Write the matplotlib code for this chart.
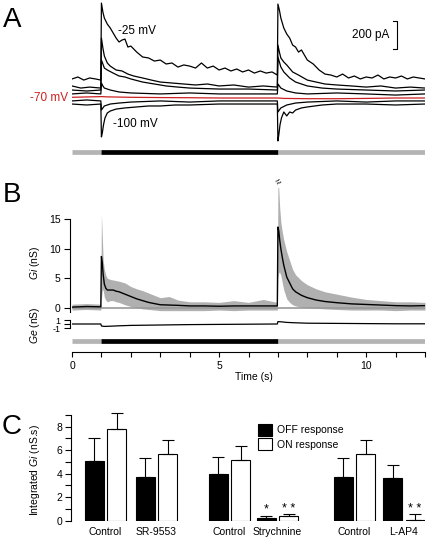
import numpy as np
import matplotlib
matplotlib.use('Agg')
import matplotlib.pyplot as plt
from matplotlib.patches import Patch

plt.rcParams['font.family'] = ['Liberation Sans', 'DejaVu Sans']
plt.rcParams['mathtext.fontset'] = 'custom'
plt.rcParams['mathtext.it'] = 'Liberation Sans:italic'
plt.rcParams['mathtext.rm'] = 'Liberation Sans'

# ---- data ----
# stimulus timing (s)
stim_on, stim_off, t_end = 1.0, 7.0, 12.0

# A: membrane currents (pA, relative to -70 mV holding level)
t_m25 = [0, 0.2, 0.4, 0.6, 0.8, 0.98, 1.0, 1.05, 1.1, 1.2, 1.3, 1.4, 1.5, 1.6, 1.7, 1.8, 1.9,
         2.0, 2.2, 2.4, 2.6, 2.8, 3.0, 3.2, 3.4, 3.6, 3.8, 4.0, 4.2, 4.4, 4.6, 4.8, 5.0, 5.2,
         5.4, 5.6, 5.8, 6.0, 6.2, 6.4, 6.6, 6.8, 6.98, 7.0, 7.05, 7.1, 7.2, 7.3, 7.4, 7.5,
         7.6, 7.7, 7.8, 8.0, 8.2, 8.4, 8.6, 8.8, 9.0, 9.2, 9.4, 9.6, 9.8, 10.0, 10.2, 10.4,
         10.6, 10.8, 11.0, 11.2, 11.4, 11.6, 11.8, 12.0]
i_m25 = [136, 150, 128, 143, 136, 128, 678, 614, 571, 528, 500, 464, 428, 400, 414, 421, 364,
         371, 328, 293, 286, 264, 271, 243, 250, 221, 236, 228, 214, 250, 214, 228, 200, 214,
         193, 207, 186, 200, 178, 193, 178, 186, 164, 671, 628, 571, 500, 457, 428, 378,
         364, 328, 343, 271, 243, 200, 171, 164, 150, 171, 143, 157, 136, 150, 143, 164,
         136, 150, 143, 157, 136, 150, 143, 136]

t_m40 = [0, 0.3, 0.6, 0.98, 1.0, 1.05, 1.1, 1.2, 1.3, 1.5, 1.7, 1.9, 2.1, 2.4, 2.7, 3.0, 3.4,
         3.8, 4.2, 4.6, 5.0, 5.5, 6.0, 6.5, 6.98, 7.0, 7.05, 7.1, 7.2, 7.3, 7.5, 7.7, 8.0,
         8.3, 8.6, 9.0, 9.5, 10.0, 10.5, 11.0, 11.5, 12.0]
i_m40 = [86, 71, 78, 71, 428, 357, 300, 250, 228, 200, 193, 171, 157, 143, 128, 114, 107,
         100, 93, 100, 86, 93, 78, 86, 78, 378, 328, 286, 257, 236, 186, 164, 128,
         114, 100, 93, 86, 78, 86, 71, 78, 71]

t_m55 = [0, 0.5, 0.98, 1.0, 1.05, 1.1, 1.2, 1.4, 1.6, 1.8, 2.0, 2.4, 2.8, 3.2, 3.6, 4.0,
         5.0, 6.0, 6.98, 7.0, 7.05, 7.1, 7.2, 7.4, 7.6, 8.0, 8.5, 9.0, 10.0, 11.0, 12.0]
i_m55 = [57, 50, 57, 271, 243, 214, 200, 178, 157, 150, 136, 114, 100, 86, 78, 71,
         64, 64, 57, 293, 257, 221, 186, 143, 114, 86, 71, 64, 57, 50, 57]

t_m60 = [0, 0.5, 0.98, 1.0, 1.05, 1.1, 1.3, 1.6, 2.0, 3.0, 4.0, 5.0, 6.0, 6.98, 7.0, 7.1,
         7.3, 7.6, 8.0, 9.0, 10.0, 11.0, 12.0]
i_m60 = [29, 36, 29, 107, 86, 71, 57, 43, 36, 29, 36, 29, 29, 29, 100, 71,
         50, 36, 29, 36, 29, 21, 29]

t_m70 = [0, 1.0, 1.2, 2.0, 3.0, 4.0, 5.0, 6.0, 7.0, 7.2, 8.0, 9.0, 10.0, 11.0, 12.0]
i_m70 = [5, 10, 8, 5, 3, 2, 0, 0, 0, -3, -5, -5, -3, 0, 0]

t_m85 = [0, 0.5, 0.98, 1.0, 1.05, 1.1, 1.3, 1.6, 2.0, 3.0, 4.0, 5.0, 6.0, 6.98, 7.0, 7.1,
         7.3, 7.6, 8.0, 9.0, 10.0, 11.0, 12.0]
i_m85 = [-21, -14, -21, -86, -71, -57, -43, -36, -29, -21, -29, -21, -21, -21, -100, -71,
         -50, -36, -29, -21, -29, -21, -21]

t_m100 = [0, 0.5, 0.98, 1.0, 1.03, 1.07, 1.12, 1.2, 1.3, 1.5, 1.8, 2.2, 2.6, 3.0, 3.5, 4.0,
          5.0, 6.0, 6.98, 7.0, 7.03, 7.07, 7.12, 7.2, 7.3, 7.4, 7.5, 7.6, 7.8, 8.0, 8.5,
          9.0, 10.0, 11.0, 12.0]
i_m100 = [-43, -50, -43, -278, -250, -193, -143, -107, -93, -79, -71, -64, -57, -57, -50, -50,
          -43, -43, -43, -307, -264, -193, -143, -100, -128, -100, -107, -86, -71, -64, -50,
          -43, -43, -50, -43]

# B: conductances (nS)
t_g = [0, 0.5, 0.98, 1.0, 1.03, 1.06, 1.1, 1.15, 1.2, 1.3, 1.4, 1.5, 1.6, 1.8, 2.0, 2.2,
       2.4, 2.6, 2.8, 3.0, 3.3, 3.6, 4.0, 4.5, 5.0, 5.5, 6.0, 6.5, 6.98, 7.0, 7.03, 7.06,
       7.1, 7.15, 7.2, 7.3, 7.4, 7.5, 7.6, 7.8, 8.0, 8.3, 8.6, 9.0, 9.5, 10.0, 10.5, 11.0,
       11.5, 12.0]
gi_mean = [0.1, 0.2, 0.15, 8.7, 7.6, 5.6, 4.0, 3.3, 3.0, 3.0, 3.0, 2.8, 2.7, 2.3, 1.9, 1.5,
           1.2, 0.9, 0.7, 0.5, 0.45, 0.4, 0.3, 0.3, 0.25, 0.3, 0.3, 0.3, 0.3, 13.7, 13.0, 11.5,
           10.0, 8.5, 7.2, 5.2, 4.2, 3.2, 2.7, 2.1, 1.7, 1.3, 1.05, 0.85, 0.65, 0.55, 0.45, 0.35,
           0.3, 0.35]
gi_hi = [0.6, 0.7, 0.6, 16.0, 12.0, 8.0, 6.5, 5.5, 5.0, 4.8, 4.7, 4.6, 4.5, 4.2, 3.6, 3.2,
         2.9, 2.5, 2.1, 1.7, 1.9, 1.3, 1.0, 1.0, 0.9, 1.2, 0.9, 1.4, 0.9, 22.0, 20.0, 17.0,
         14.5, 12.8, 11.5, 9.5, 8.0, 6.5, 5.6, 4.6, 3.9, 3.2, 2.7, 2.3, 1.8, 1.4, 1.2, 1.0,
         1.0, 0.9]
gi_lo = [-0.4, -0.3, -0.4, 1.5, 3.0, 3.0, 1.8, 1.3, 1.0, 1.2, 1.2, 1.0, 0.9, 0.5, 0.2, 0.0,
         -0.2, -0.3, -0.4, -0.5, -0.5, -0.5, -0.5, -0.5, -0.4, -0.5, -0.4, -0.4, -0.4, 5.0, 6.0, 6.0,
         5.5, 4.2, 3.0, 1.5, 0.9, 0.5, 0.3, 0.1, 0.0, -0.1, -0.2, -0.3, -0.4, -0.4, -0.4, -0.5,
         -0.4, -0.4]
t_ge = [0, 0.98, 1.0, 1.1, 1.3, 1.6, 2.0, 2.5, 3.0, 4.0, 5.0, 6.0, 6.98, 7.0, 7.1, 7.3, 7.6,
        8.0, 9.0, 10.0, 11.0, 12.0]
ge = [0.0, 0.0, -0.5, -0.6, -0.55, -0.45, -0.35, -0.3, -0.25, -0.15, -0.1, -0.05, 0.0, 0.6,
      0.55, 0.4, 0.3, 0.2, 0.15, 0.1, 0.05, 0.05]

# C: integrated Gi (nS.s)
conditions = ['Control', 'SR-9553', 'Control', 'Strychnine', 'Control', 'L-AP4']
off_mean = [5.1, 3.75, 4.0, 0.2, 3.7, 3.6]
off_err = [1.9, 1.55, 1.45, 0.17, 1.6, 1.1]
on_mean = [7.8, 5.7, 5.15, 0.4, 5.65, 0.05]
on_err = [1.4, 1.15, 1.25, 0.2, 1.2, 0.5]
off_sig = ['', '', '', '*', '', '']
on_sig = ['', '', '', '* *', '', '* *']

# ---- figure ----
W, H = 428, 539
fig = plt.figure(figsize=(W / 100, H / 100), dpi=100)


def add_ax(x0, y0, x1, y1):
    # axes from pixel box (top-left origin)
    return fig.add_axes([x0 / W, 1 - y1 / H, (x1 - x0) / W, (y1 - y0) / H])


def stim_bar(ax, y):
    ax.plot([0, stim_on], [y, y], color='#b4b4b4', lw=3.4, solid_capstyle='butt')
    ax.plot([stim_on, stim_off], [y, y], color='black', lw=3.4, solid_capstyle='butt')
    ax.plot([stim_off, t_end], [y, y], color='#b4b4b4', lw=3.4, solid_capstyle='butt')


# ---- A ----
axA = add_ax(72, 0, 425, 147)
axA.set_xlim(0, t_end)
axA.set_ylim(-350, 700)
axA.axis('off')
for t, i in [(t_m25, i_m25), (t_m40, i_m40), (t_m55, i_m55), (t_m60, i_m60),
             (t_m85, i_m85), (t_m100, i_m100)]:
    axA.plot(t, i, color='black', lw=0.9)
axA.plot(t_m70, i_m70, color='#cc2020', lw=0.9, zorder=5)
axA.text(1.56, 478, '-25 mV', fontsize=8.5, va='center', ha='left')
axA.text(1.39, -186, '-100 mV', fontsize=8.5, va='center', ha='left')
axA.text(-0.14, 0, '-70 mV', fontsize=8.5, va='center', ha='right', color='#cc2020', clip_on=False)
# 200 pA scale bar
axA.plot([10.9, 11.05, 11.05, 10.9], [550, 550, 350, 350], color='black', lw=0.8)
axA.text(10.78, 450, '200 pA', fontsize=8.5, va='center', ha='right')

axSA = add_ax(72, 148, 425, 156)
axSA.set_xlim(0, t_end)
axSA.set_ylim(0, 1)
axSA.axis('off')
stim_bar(axSA, 0.5)

# ---- B ----
gi_px = 5.89  # px per nS
axGi = add_ax(72, 188, 425, 313)
axGi.set_xlim(0, t_end)
axGi.set_ylim(-(313 - 307.7) / gi_px, (307.7 - 188) / gi_px)
axGi.fill_between(t_g, gi_lo, gi_hi, color='#b0b0b0', lw=0)
axGi.axhline(0, color='#999999', lw=1.2)
axGi.plot(t_g, gi_mean, color='black', lw=1.0)
for s in ['top', 'right', 'bottom']:
    axGi.spines[s].set_visible(False)
axGi.spines['left'].set_position(('outward', 1.8))
axGi.spines['left'].set_bounds(-0.7, 15)
axGi.spines['left'].set_linewidth(0.8)
axGi.set_xticks([])
axGi.set_yticks([0, 5, 10, 15])
axGi.tick_params(axis='y', length=4.5, width=0.8, labelsize=7.5, pad=2)
axGi.text(7.05, 20.3, '≈', fontsize=7, rotation=35, ha='center', va='bottom', clip_on=False)

axGe = add_ax(72, 316, 425, 332)
axGe.set_xlim(0, t_end)
axGe.set_ylim(-2, 2)
axGe.plot(t_ge, ge, color='black', lw=0.9)
for s in ['top', 'right', 'bottom']:
    axGe.spines[s].set_visible(False)
axGe.spines['left'].set_position(('outward', 1.8))
axGe.spines['left'].set_bounds(-1, 1)
axGe.spines['left'].set_linewidth(0.8)
axGe.set_xticks([])
axGe.set_yticks([-1, 0, 1])
axGe.set_yticklabels(['-1', '', '1'])
axGe.tick_params(axis='y', length=4.5, width=0.8, labelsize=6.5, pad=2)

fig.text(35 / W, 1 - 263 / H, r'$\mathit{Gi}$ (nS)', rotation=90, fontsize=7.5, ha='center', va='center')
fig.text(35 / W, 1 - 325 / H, r'$\mathit{Ge}$ (nS)', rotation=90, fontsize=7.5, ha='center', va='center')

axT = add_ax(72, 336, 425, 352)
axT.set_xlim(0, t_end)
axT.set_ylim(0, 1)
stim_bar(axT, (352 - 340.7) / 16)
for s in ['top', 'right', 'left']:
    axT.spines[s].set_visible(False)
axT.spines['bottom'].set_linewidth(0.8)
axT.set_yticks([])
axT.set_xticks([0, 5, 10])
axT.set_xticks(np.arange(0, 13, 1), minor=True)
axT.tick_params(axis='x', which='both', length=3.6, width=0.8, labelsize=7.5, pad=3)
axT.set_xlabel('Time (s)', fontsize=7.5)
axT.xaxis.set_label_coords((254 - 72) / 353, -1.25)

# ---- C ----
c_px = 11.75  # px per nS.s
axC = add_ax(71, 410, 425, 520.7)
unit = 19.5
centers = np.array([105.6, 156.4, 229.4, 277.5, 354.4, 404.0])
centers = (centers - 105.6) / unit
axC.set_xlim((71 - 105.6) / unit, (425 - 105.6) / unit)
axC.set_ylim(0, (520.7 - 410) / c_px)
n = len(conditions)
x_off = centers - 0.57
x_on = centers + 0.57
axC.bar(x_off, off_mean, width=0.97, color='black', edgecolor='black', lw=0.8)
axC.bar(x_on, on_mean, width=0.97, color='white', edgecolor='black', lw=0.8)
axC.errorbar(x_off, off_mean, yerr=[[0] * n, off_err], fmt='none', ecolor='black',
             elinewidth=0.8, capsize=4, capthick=0.8)
axC.errorbar(x_on, on_mean, yerr=[[0] * n, on_err], fmt='none', ecolor='black',
             elinewidth=0.8, capsize=4, capthick=0.8)
for i in range(n):
    if off_sig[i]:
        axC.text(x_off[i], 1.0, off_sig[i], ha='center', va='center', fontsize=9)
    if on_sig[i]:
        axC.text(x_on[i], 1.0, on_sig[i], ha='center', va='center', fontsize=9)
for s in ['top', 'right', 'bottom']:
    axC.spines[s].set_visible(False)
axC.spines['left'].set_bounds(0, 9)
axC.spines['left'].set_linewidth(0.8)
axC.set_yticks([0, 2, 4, 6, 8])
axC.set_yticks([1, 3, 5, 7, 9], minor=True)
axC.tick_params(axis='y', which='both', length=4, width=0.8, labelsize=7.5, pad=2)
axC.set_xticks(centers)
axC.set_xticklabels(conditions)
axC.tick_params(axis='x', length=0, labelsize=7.5, pad=4.5)
axC.legend(handles=[Patch(facecolor='black', edgecolor='black', lw=0.8),
                    Patch(facecolor='white', edgecolor='black', lw=0.8)],
           labels=['OFF response', 'ON response'], loc='upper left',
           bbox_to_anchor=(258 / W, 1 - 424 / H), bbox_transform=fig.transFigure,
           frameon=False, fontsize=7.5, handlelength=1.35, handleheight=1.35,
           handletextpad=0.5, labelspacing=0.25, borderpad=0, borderaxespad=0)
fig.text(35 / W, 1 - 470 / H, r'Integrated $\mathit{Gi}$ (nS.s)', rotation=90, fontsize=7.5,
         ha='center', va='center')

# panel letters
fig.text(3 / W, 1 - 26.7 / H, 'A', fontsize=20, va='baseline')
fig.text(3 / W, 1 - 201.7 / H, 'B', fontsize=20, va='baseline')
fig.text(2 / W, 1 - 434 / H, 'C', fontsize=20, va='baseline')

fig.savefig('out.png', dpi=100)
